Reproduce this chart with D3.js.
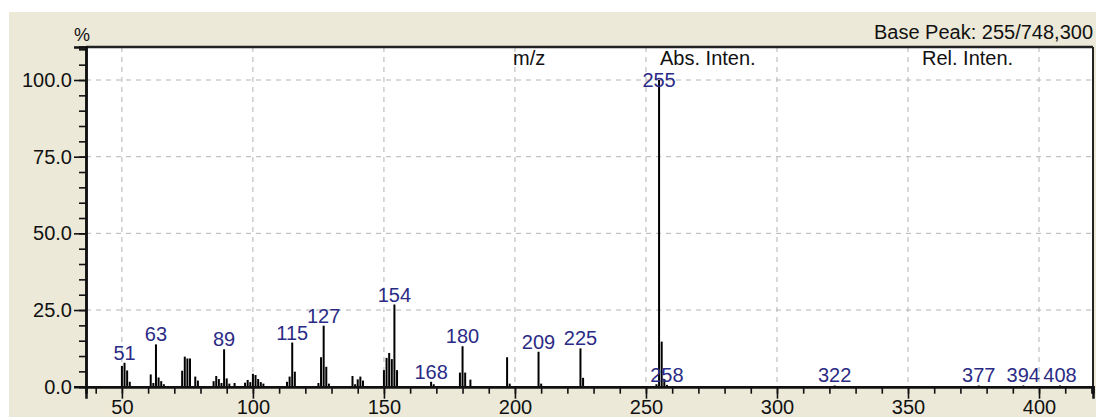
<!DOCTYPE html>
<html>
<head>
<meta charset="utf-8">
<script src="https://cdn.jsdelivr.net/npm/d3@7"></script>
<style>
  body { margin: 0; background: #fff; }
  text { font-family: "Liberation Sans", Arial, sans-serif; }
</style>
</head>
<body>
<div id="chart"></div>
<script>
// spectrum peaks: m/z and relative intensity (%)
const mz = [50, 51, 52, 53, 61, 62, 63, 64, 65, 66, 73, 74, 75, 76, 78, 79,
  85, 86, 87, 88, 89, 90, 91, 93, 97, 98, 99, 100, 101, 102, 103, 104,
  113, 114, 115, 116, 125, 126, 127, 128, 129, 138, 139, 140, 141, 142,
  150, 151, 152, 153, 154, 155, 168, 169, 179, 180, 181, 183, 197, 198,
  209, 210, 225, 226, 254, 255, 256, 257, 258, 322, 377, 394, 408];
const relInten = [6.8, 7.8, 5.3, 1.6, 4.0, 1.2, 13.8, 3.0, 1.8, 0.8, 5.2, 9.8, 9.2, 9.2, 3.3, 2.0,
  1.8, 3.5, 2.5, 1.2, 12.2, 2.7, 1.0, 1.2, 1.3, 2.2, 1.5, 4.2, 3.8, 2.5, 1.5, 1.0,
  1.6, 3.3, 14.4, 4.9, 1.2, 9.6, 19.9, 6.5, 1.0, 3.5, 0.8, 2.4, 3.3, 2.0,
  5.4, 9.4, 11.0, 9.0, 26.8, 5.4, 1.6, 0.8, 4.6, 13.2, 4.6, 2.3, 9.6, 1.0,
  11.4, 1.0, 12.5, 2.9, 0.8, 100, 14.7, 2.5, 0.6, 0.4, 0.4, 0.4, 0.4];
const labelledMz = [51, 63, 89, 115, 127, 154, 168, 180, 209, 225, 255, 258, 322, 377, 394, 408];

const yMajor = [0, 25, 50, 75, 100];
const yMinor = d3.range(0, 111, 5);
const xMajor = [50, 100, 150, 200, 250, 300, 350, 400];
const xMinor = d3.range(40, 421, 10);
const columnHeads = [["m/z", 513], ["Abs. Inten.", 660], ["Rel. Inten.", 922]];

const W = 1096, H = 417;
const margin = { left: 86, top: 47, right: 3, bottom: 30.3 };
const innerW = W - margin.left - margin.right;
const innerH = H - margin.top - margin.bottom;
const fontSize = 20;

const svg = d3.select("#chart").append("svg")
  .attr("width", W).attr("height", H);

// beige panel
svg.append("rect").attr("x", 9).attr("y", 12)
  .attr("width", W - 9).attr("height", H - 12).attr("fill", "#ece9d8");

const g = svg.append("g")
  .attr("transform", "translate(" + margin.left + "," + margin.top + ")");

g.append("rect").attr("width", innerW).attr("height", innerH).attr("fill", "#fff");

const x = d3.scaleLinear().domain([36.3, 420.6]).range([0, innerW]);
const y = d3.scaleLinear().domain([0, 110.76]).range([innerH, 0]);

// dashed grid
g.append("g").selectAll("line").data(xMajor).join("line")
  .attr("x1", d => x(d)).attr("x2", d => x(d))
  .attr("y1", 0).attr("y2", innerH)
  .attr("stroke", "#b4b4b4").attr("stroke-dasharray", "5,5");
g.append("g").selectAll("line").data(yMajor.slice(1)).join("line")
  .attr("x1", 0).attr("x2", innerW)
  .attr("y1", d => y(d)).attr("y2", d => y(d))
  .attr("stroke", "#b4b4b4").attr("stroke-dasharray", "5,5");

// column headings inside the plot
svg.append("g").selectAll("text").data(columnHeads).join("text")
  .attr("x", d => d[1]).attr("y", 65)
  .attr("font-size", fontSize).attr("fill", "#111")
  .text(d => d[0]);

// peaks
const peaks = mz.map((m, i) => ({ mz: m, v: relInten[i] }));
g.append("g").selectAll("line").data(peaks).join("line")
  .attr("x1", d => x(d.mz)).attr("x2", d => x(d.mz))
  .attr("y1", innerH).attr("y2", d => y(d.v))
  .attr("stroke", "#000").attr("stroke-width", 2);

// peak labels
g.append("g").selectAll("text")
  .data(peaks.filter(d => labelledMz.includes(d.mz))).join("text")
  .attr("x", d => x(d.mz))
  .attr("y", d => Math.max(y(d.v) - 3, 40))
  .attr("text-anchor", "middle")
  .attr("font-size", fontSize).attr("fill", "#2b2b85")
  .text(d => d.mz);

// frame: top and right
g.append("line").attr("x1", 0).attr("x2", innerW).attr("y1", 0).attr("y2", 0)
  .attr("stroke", "#222").attr("stroke-width", 2.5);
g.append("line").attr("x1", innerW).attr("x2", innerW).attr("y1", 0).attr("y2", innerH)
  .attr("stroke", "#222").attr("stroke-width", 2);

// axes
function styleAxis(sel) {
  sel.select(".domain").attr("stroke", "#111").attr("stroke-width", 2.5);
  sel.selectAll(".tick line").attr("stroke", "#111").attr("stroke-width", 1.6);
  sel.selectAll("text").attr("font-size", fontSize).attr("fill", "#111")
    .attr("font-family", "'Liberation Sans', Arial, sans-serif");
}
g.append("g").call(d3.axisLeft(y).tickValues(yMinor).tickSize(7).tickFormat(""))
  .call(styleAxis);
g.append("g").call(d3.axisLeft(y).tickValues(yMajor).tickSize(12).tickPadding(2)
  .tickFormat(d3.format(".1f"))).call(styleAxis);
g.append("g").attr("transform", "translate(0," + innerH + ")")
  .call(d3.axisBottom(x).tickValues(xMinor).tickSize(7).tickFormat(""))
  .call(styleAxis);
g.append("g").attr("transform", "translate(0," + innerH + ")")
  .call(d3.axisBottom(x).tickValues(xMajor).tickSize(12).tickPadding(1))
  .call(styleAxis);

// titles
svg.append("text").attr("x", 74).attr("y", 41)
  .attr("font-size", 18).attr("fill", "#111").text("%");
svg.append("text").attr("x", 1093).attr("y", 39).attr("text-anchor", "end")
  .attr("font-size", fontSize).attr("fill", "#111").text("Base Peak: 255/748,300");
</script>
</body>
</html>
